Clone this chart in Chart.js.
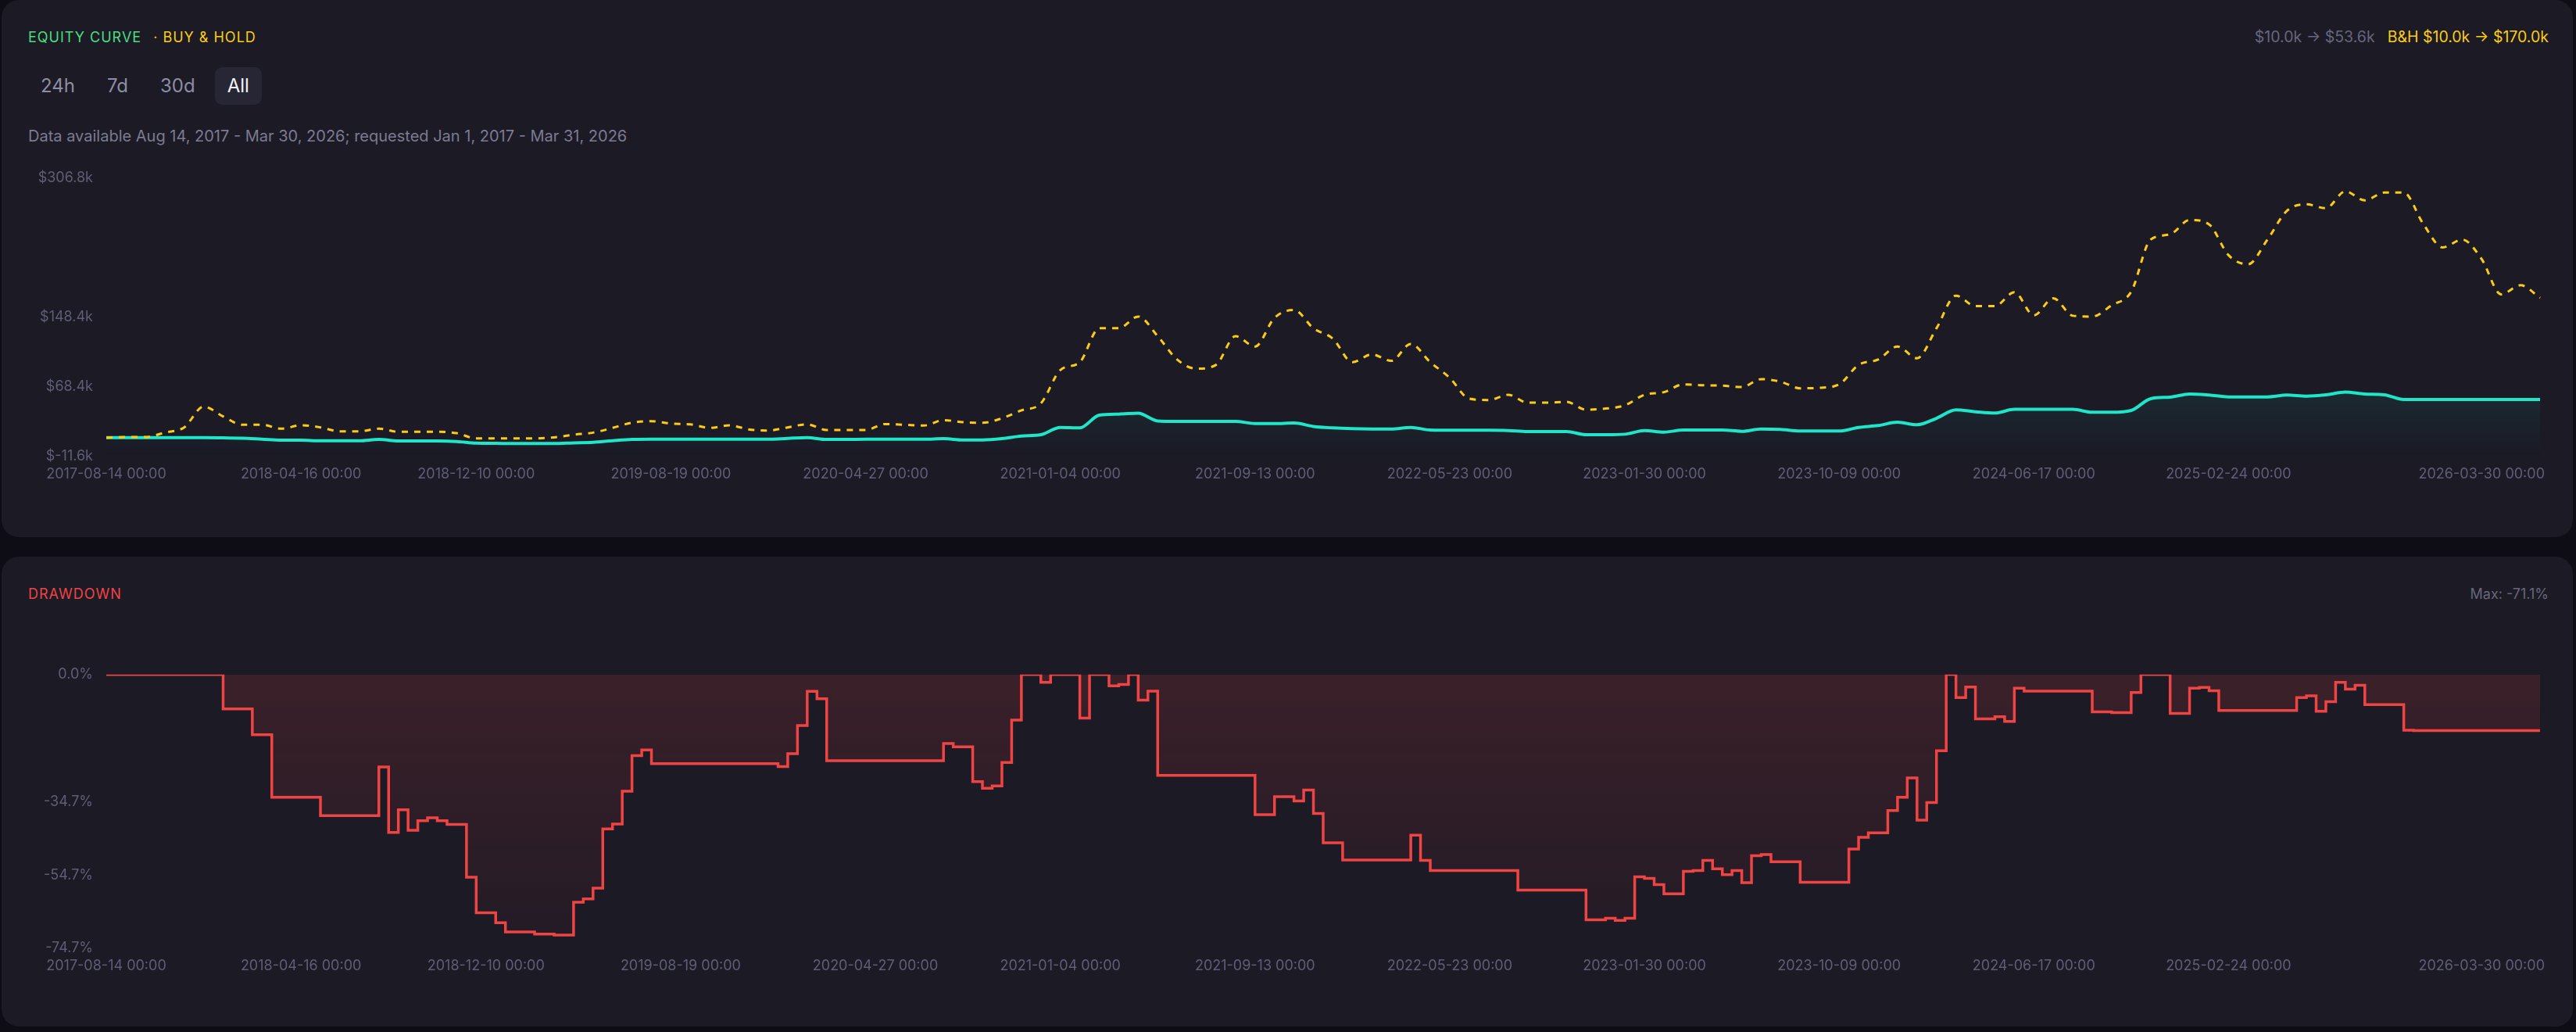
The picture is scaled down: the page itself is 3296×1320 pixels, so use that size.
<!DOCTYPE html>
<html>
<head>
<meta charset="utf-8">
<script src="https://cdn.jsdelivr.net/npm/chart.js@4.4.1/dist/chart.umd.min.js"></script>
<style>
  html, body { margin:0; padding:0; width:3296px; height:1320px; overflow:hidden; background:#0e0d16;
    font-family: Inter, "Noto Sans", sans-serif; }
  .card { position:absolute; left:2px; width:3290px; background:#1b1a25; border-radius:22px; }
  .t { position:absolute; white-space:nowrap; font-size:18px; line-height:18px; }
  .cap { letter-spacing:1px; }
  .btns { position:absolute; left:36px; top:86px; display:flex; gap:9px; }
  .btn { height:48px; line-height:48px; padding:0 16px; font-size:24px; color:#8e8da3; border-radius:9px; }
  .btn.on { background:#272635; color:#f2f2f7; }
  .chartbox { position:absolute; }
</style>
</head>
<body>
<div class="card" style="top:0;height:687px;"></div>
<div class="card" style="top:712px;height:601px;"></div>

<div class="t cap" style="left:36px;top:39px;"><span style="color:#4ade80">EQUITY CURVE</span><span style="color:#facc15;margin-left:15px">· BUY &amp; HOLD</span></div>
<div class="t" style="right:35px;top:38px;font-size:19.5px;line-height:19.5px;"><span style="color:#67667d">$10.0k → $53.6k</span><span style="color:#facc15;margin-left:16px">B&amp;H $10.0k → $170.0k</span></div>
<div class="btns"><div class="btn">24h</div><div class="btn">7d</div><div class="btn">30d</div><div class="btn on">All</div></div>
<div class="t" style="left:36px;top:164px;font-size:20px;line-height:20px;color:#7c7b91">Data available Aug 14, 2017 - Mar 30, 2026; requested Jan 1, 2017 - Mar 31, 2026</div>

<div class="chartbox" style="left:36px;top:200px;width:3226px;height:430px;"><canvas id="eq"></canvas></div>

<div class="t cap" style="left:36px;top:751px;color:#ef4444">DRAWDOWN</div>
<div class="t" style="right:35px;top:751px;color:#67667d">Max: -71.1%</div>

<div class="chartbox" style="left:36px;top:835px;width:3226px;height:425px;"><canvas id="dd"></canvas></div>

<script>
// ---- data ----
const xTickLabels = ['2017-08-14 00:00','2018-04-16 00:00','2018-12-10 00:00','2019-08-19 00:00','2020-04-27 00:00',
  '2021-01-04 00:00','2021-09-13 00:00','2022-05-23 00:00','2023-01-30 00:00','2023-10-09 00:00',
  '2024-06-17 00:00','2025-02-24 00:00','2026-03-30 00:00'];
const equityTickIndex = [0,10,19,29,39,49,59,69,79,89,99,109,122];
const drawdownTickIndex = [0,20,39,59,79,98,118,138,158,178,198,218,244];

// strategy equity, $k
const strategyEquity = [
  10.0,10.0,10.0,10.0,10.0,10.0,9.8,9.5,8.3,7.1,
  7.1,6.5,6.5,6.5,8.0,6.2,6.2,6.2,5.6,3.8,
  3.5,3.3,3.3,3.3,4.1,4.7,6.5,8.0,8.3,8.3,
  8.3,8.3,8.3,8.3,8.3,9.2,10.1,8.0,8.0,8.3,
  8.3,8.3,8.3,8.9,7.4,7.4,8.9,11.9,13.4,21.8,
  21.2,35.8,37.0,38.0,29.2,28.6,28.6,28.6,28.6,26.2,
  26.2,26.8,22.9,21.2,20.3,20.0,20.0,21.8,18.8,18.5,
  18.5,18.5,18.2,17.0,17.0,17.0,13.4,13.4,14.0,18.2,
  16.4,18.8,18.8,18.8,17.3,20.0,19.4,17.6,17.6,17.6,
  21.8,23.9,27.7,24.8,32.2,41.8,39.7,38.2,42.4,42.4,
  42.4,42.4,39.1,39.1,41.2,54.6,56.4,60.0,58.8,56.7,
  56.7,56.7,58.8,57.6,59.1,62.1,60.0,59.1,53.6,53.6,
  53.6,53.6,53.6,53.6,53.6,53.6];

// buy & hold equity, $k
const buyHoldEquity = [
  10.0,10.7,10.7,15.8,21.8,45.6,34.3,24.8,24.8,20.3,
  24.2,21.8,17.3,17.3,20.3,16.7,16.7,16.7,15.2,9.2,
  9.2,9.2,9.2,10.4,13.4,15.8,21.2,27.1,28.9,26.2,
  25.3,21.2,24.2,19.4,18.2,21.8,25.3,18.8,18.8,18.8,
  25.6,24.8,23.9,30.1,27.7,27.1,32.2,41.2,49.2,87.4,
  96.4,135.2,135.2,148.6,126.2,99.4,88.9,93.4,126.2,114.3,
  147.1,156.1,135.2,123.3,96.4,105.3,97.9,117.3,96.4,78.5,
  54.6,53.1,59.1,50.1,50.1,51.0,42.1,43.3,47.1,59.1,
  62.1,71.0,70.1,69.5,68.0,77.0,74.0,66.5,67.1,71.0,
  93.4,99.4,114.3,100.9,135.2,172.5,160.6,160.6,176.4,150.0,
  169.5,149.5,148.6,161.5,177.0,236.7,242.6,259.1,254.0,218.8,
  208.3,236.7,269.5,277.0,272.5,291.9,281.5,290.4,290.4,254.6,
  227.7,236.7,214.3,174.0,184.4,170.0];

// drawdown, %
const drawdownPct = [
  0,0,0,0,0,0,0,0,0,0,
  0,0,-9.4,-9.4,-9.4,-16.4,-16.4,-33.5,-33.5,-33.5,
  -33.5,-33.5,-38.5,-38.5,-38.5,-38.5,-38.5,-38.5,-25.2,-43.1,
  -36.9,-42.5,-39.9,-39.1,-39.9,-40.9,-40.9,-55.3,-65.0,-65.0,
  -67.7,-70.2,-70.2,-70.2,-70.8,-70.8,-71.1,-71.1,-62.1,-61.2,
  -58.3,-42.1,-40.8,-31.8,-22.1,-20.6,-24.3,-24.3,-24.3,-24.3,
  -24.3,-24.3,-24.3,-24.3,-24.3,-24.3,-24.3,-24.3,-24.3,-25.1,
  -21.6,-13.9,-4.6,-6.6,-23.5,-23.5,-23.5,-23.5,-23.5,-23.5,
  -23.5,-23.5,-23.5,-23.5,-23.5,-23.5,-18.8,-19.7,-19.7,-29.2,
  -31.0,-30.4,-24.0,-12.4,0,0,-2.1,0,0,0,
  -11.9,0,0,-3.1,-2.7,0,-7.0,-4.5,-27.5,-27.5,
  -27.5,-27.5,-27.5,-27.5,-27.5,-27.5,-27.5,-27.5,-38.2,-38.2,
  -33.3,-33.3,-34.5,-31.5,-37.9,-45.9,-45.9,-50.6,-50.6,-50.6,
  -50.6,-50.6,-50.6,-50.6,-43.8,-50.7,-53.5,-53.5,-53.5,-53.5,
  -53.5,-53.5,-53.5,-53.5,-53.5,-58.8,-58.8,-58.8,-58.8,-58.8,
  -58.8,-58.8,-66.9,-66.9,-66.5,-67.1,-66.5,-55.2,-55.6,-57.3,
  -59.8,-59.8,-53.7,-53.5,-50.7,-53.0,-54.6,-53.5,-56.8,-49.4,
  -49.1,-51.1,-51.1,-51.1,-56.7,-56.7,-56.7,-56.7,-56.7,-47.6,
  -44.4,-43.2,-43.2,-37.1,-33.5,-28.2,-39.7,-34.9,-20.8,0,
  -6.3,-3.4,-12.1,-12.1,-11.5,-12.8,-3.7,-4.5,-4.5,-4.5,
  -4.5,-4.5,-4.5,-4.5,-10.2,-10.2,-10.4,-10.4,-4.9,0,
  0,0,-10.6,-10.6,-3.7,-3.5,-4.4,-9.8,-9.8,-9.8,
  -9.8,-9.8,-9.8,-9.8,-9.8,-6.3,-5.8,-10.0,-7.4,-2.1,
  -4.0,-2.9,-8.2,-8.2,-8.2,-8.2,-15.2,-15.3,-15.3,-15.3,
  -15.3,-15.3,-15.3,-15.3,-15.3,-15.3,-15.3,-15.3,-15.3,-15.3,
  -15.3];

const equityYTicks = [-11.6, 68.4, 148.4, 306.8];
const drawdownYTicks = [-74.7, -54.7, -34.7, 0.0];

// ---- build ----
function buildCategories(n, idx) {
  const arr = new Array(n).fill('');
  idx.forEach((p, k) => { arr[p] = xTickLabels[k]; });
  return arr;
}
const equityCategories = buildCategories(strategyEquity.length, equityTickIndex);
const drawdownCategories = buildCategories(drawdownPct.length, drawdownTickIndex);

Chart.defaults.font.family = 'Inter, "Noto Sans", sans-serif';
Chart.defaults.font.size = 18;
Chart.defaults.color = '#5f5e76';

function xScale(h) {
  return {
    type: 'category', offset: false,
    grid: { display: false, drawTicks: false }, border: { display: false },
    ticks: { autoSkip: false, maxRotation: 0, minRotation: 0, padding: 12, color: '#5f5e76' },
    afterFit(s) { s.height = h; }
  };
}
function yScale(min, max, tickVals, fmt) {
  return {
    min, max,
    grid: { display: false, drawTicks: false }, border: { display: false },
    ticks: { padding: 17, color: '#5f5e76', callback: v => fmt(v) },
    afterBuildTicks(s) { s.ticks = tickVals.map(v => ({ value: v })); },
    afterFit(s) { s.width = 100; }
  };
}

new Chart(document.getElementById('eq'), {
  type: 'line',
  data: {
    labels: equityCategories,
    datasets: [
      {
        label: 'Buy & Hold', data: buyHoldEquity,
        borderColor: '#facc15', borderWidth: 3, borderDash: [8, 8],
        pointRadius: 0, fill: false, cubicInterpolationMode: 'monotone', order: 1
      },
      {
        label: 'Equity', data: strategyEquity,
        borderColor: '#1fe5c9', borderWidth: 4, pointRadius: 0,
        cubicInterpolationMode: 'monotone', fill: 'start', order: 2,
        backgroundColor: (ctx) => {
          const ca = ctx.chart.chartArea;
          if (!ca) return 'rgba(31,229,201,0.05)';
          const g = ctx.chart.ctx.createLinearGradient(0, ca.top, 0, ca.bottom);
          g.addColorStop(0, 'rgba(31,229,201,0.35)');
          g.addColorStop(1, 'rgba(31,229,201,0)');
          return g;
        }
      }
    ]
  },
  options: {
    responsive: true, maintainAspectRatio: false, animation: false,
    layout: { padding: { top: 28, right: 10, left: 0, bottom: 0 } },
    plugins: { legend: { display: false }, tooltip: { enabled: false } },
    scales: {
      x: xScale(46),
      y: yScale(-11.6, 306.8, equityYTicks, v => '$' + v.toFixed(1) + 'k')
    }
  }
});

new Chart(document.getElementById('dd'), {
  type: 'line',
  data: {
    labels: drawdownCategories,
    datasets: [{
      label: 'Drawdown', data: drawdownPct,
      borderColor: '#ef4444', borderWidth: 3.5, pointRadius: 0,
      stepped: 'before', fill: 'origin',
      backgroundColor: (ctx) => {
        const ca = ctx.chart.chartArea;
        if (!ca) return 'rgba(239,68,68,0.1)';
        const g = ctx.chart.ctx.createLinearGradient(0, ca.top, 0, ca.bottom);
        g.addColorStop(0, 'rgba(239,68,68,0.15)');
        g.addColorStop(1, 'rgba(239,68,68,0.035)');
        return g;
      }
    }]
  },
  options: {
    responsive: true, maintainAspectRatio: false, animation: false,
    layout: { padding: { top: 19, right: 10, left: 0, bottom: 0 } },
    plugins: { legend: { display: false }, tooltip: { enabled: false } },
    scales: {
      x: xScale(47),
      y: yScale(-74.7, 0, drawdownYTicks, v => (Math.abs(v) < 1e-9 ? 0 : v).toFixed(1) + '%')
    }
  }
});
</script>
</body>
</html>
